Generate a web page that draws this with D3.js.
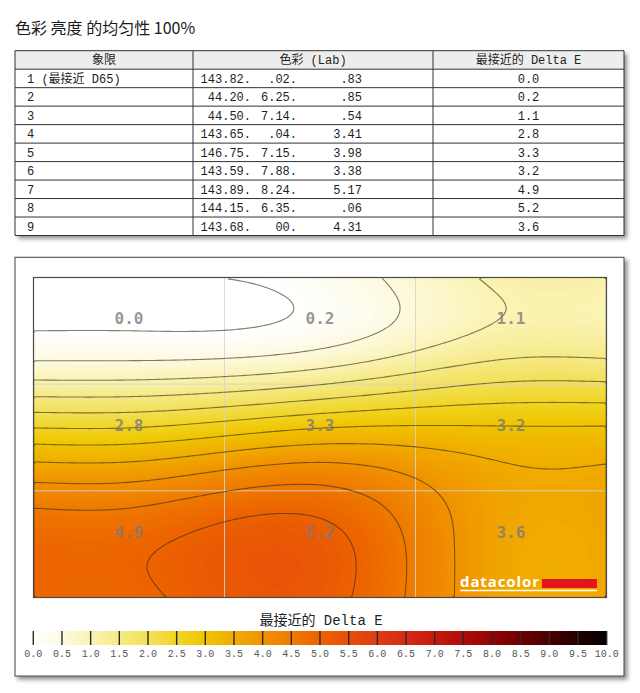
<!DOCTYPE html>
<html><head><meta charset="utf-8">
<script src="https://cdn.jsdelivr.net/npm/d3@7"></script>
<style>html,body{margin:0;padding:0;background:#fff;} svg{display:block;}</style>
</head><body><svg id="c" width="640" height="693"></svg>
<script>
// ---------- data ----------
const title = "色彩 亮度 的均匀性 100%";
const headers = ["象限", "色彩 (Lab)", "最接近的 Delta E"];
const quadrants = ["1 (最接近 D65)", "2", "3", "4", "5", "6", "7", "8", "9"];
const labL = ["143.82.", "44.20.", "44.50.", "143.65.", "146.75.", "143.59.", "143.89.", "144.15.", "143.68."];
const labA = [".02.", "6.25.", "7.14.", ".04.", "7.15.", "7.88.", "8.24.", "6.35.", "00."];
const labB = [".83", ".85", ".54", "3.41", "3.98", "3.38", "5.17", ".06", "4.31"];
const deltaE = [0.0, 0.2, 1.1, 2.8, 3.3, 3.2, 4.9, 5.2, 3.6];
const deltaLabels = ["0.0", "0.2", "1.1", "2.8", "3.3", "3.2", "4.9", "5.2", "3.6"];
const legendTitle = "最接近的 Delta E";
const legendTicks = [0, 0.5, 1, 1.5, 2, 2.5, 3, 3.5, 4, 4.5, 5, 5.5, 6, 6.5, 7, 7.5, 8, 8.5, 9, 9.5, 10];
const legendTickLabels = ["0.0","0.5","1.0","1.5","2.0","2.5","3.0","3.5","4.0","4.5","5.0","5.5","6.0","6.5","7.0","7.5","8.0","8.5","9.0","9.5","10.0"];
const contourLevels = [0, 0.5, 1, 1.5, 2, 2.5, 3, 3.5, 4, 4.5, 5, 5.5, 6];
const colorDomain = [0, 0.5, 1, 1.5, 2, 2.5, 3, 3.5, 4, 4.5, 5, 5.5, 6, 6.5, 7, 7.5, 8, 8.5, 9, 9.5, 10];
const colorRange = ["#ffffff","#fdfae0","#faf3b4","#f6ea86","#f3e058","#f1d524","#f0c400","#f0ac00","#f09200","#ef7a00","#ec6200","#e64e0a","#de3c14","#d42a16","#c61a10","#b00c08","#920404","#6e0000","#480000","#240000","#000000"];

// ---------- setup ----------
const svg = d3.select("#c");
const defs = svg.append("defs");
const f = defs.append("filter").attr("id", "shadow").attr("x", "-5%").attr("y", "-5%").attr("width", "115%").attr("height", "115%");
f.append("feDropShadow").attr("dx", 3).attr("dy", 3).attr("stdDeviation", 2).attr("flood-color", "#000").attr("flood-opacity", 0.45);

const color = d3.scaleLinear().domain(colorDomain).range(colorRange).clamp(true);
const monoFont = "'Liberation Mono', 'Noto Sans CJK SC', monospace";

// ---------- title ----------
svg.append("text").attr("x", 15).attr("y", 34)
  .style("font-family", "'Noto Sans CJK SC', 'Noto Sans', sans-serif")
  .style("font-size", "16px").attr("fill", "#1a1a1a").text(title);

// ---------- table ----------
const tX0 = 15, tX1 = 624, tY0 = 50.7, rowH = 18.48, nRows = quadrants.length + 1;
const colX = [15, 193, 433, 624];
const tbl = svg.append("g");
tbl.append("rect").attr("x", tX0).attr("y", tY0).attr("width", tX1 - tX0).attr("height", rowH * nRows)
  .attr("fill", "#fff").attr("filter", "url(#shadow)");
tbl.append("rect").attr("x", tX0).attr("y", tY0).attr("width", tX1 - tX0).attr("height", rowH)
  .attr("fill", "#ededed");
d3.range(nRows + 1).forEach(k => {
  tbl.append("line").attr("x1", tX0).attr("x2", tX1).attr("y1", tY0 + k * rowH).attr("y2", tY0 + k * rowH)
    .attr("stroke", "#333").attr("stroke-width", 1);
});
colX.forEach(x => {
  tbl.append("line").attr("x1", x).attr("x2", x).attr("y1", tY0).attr("y2", tY0 + rowH * nRows)
    .attr("stroke", "#333").attr("stroke-width", 1);
});
const tText = (x, y, s, anchor) => tbl.append("text").attr("x", x).attr("y", y).attr("text-anchor", anchor)
  .style("font-family", monoFont).style("font-size", "12px").attr("fill", "#1e1e1e").text(s);
tText((colX[0] + colX[1]) / 2, tY0 + rowH / 2 + 4.5, headers[0], "middle");
tText((colX[1] + colX[2]) / 2, tY0 + rowH / 2 + 4.5, headers[1], "middle");
tText((colX[2] + colX[3]) / 2, tY0 + rowH / 2 + 4.5, headers[2], "middle");
quadrants.forEach((q, k) => {
  const y = tY0 + (k + 1.5) * rowH + 4.5;
  tText(27, y, q, "start");
  tText(251, y, labL[k], "end");
  tText(297, y, labA[k], "end");
  tText(362, y, labB[k], "end");
  tText((colX[2] + colX[3]) / 2, y, deltaE[k].toFixed(1), "middle");
});

// ---------- chart panel ----------
svg.append("rect").attr("x", 15).attr("y", 257.3).attr("width", 609).attr("height", 418.7)
  .attr("fill", "#fff").attr("stroke", "#444").attr("stroke-width", 1).attr("filter", "url(#shadow)");

const x0 = 33.5, x1 = 606.5, y0 = 277.5, y1 = 597.5;
const sx = d3.scaleLinear().domain([-1.5, 1.5]).range([x0, x1]);
const sy = d3.scaleLinear().domain([-1.5, 1.5]).range([y0, y1]);

function natSpline(xs, ys) {
  const n = xs.length, h = [], M = new Array(n).fill(0);
  for (let i = 0; i < n - 1; i++) h[i] = xs[i + 1] - xs[i];
  const a = [], b = [], c = [], d = [];
  for (let i = 1; i < n - 1; i++) {
    a.push(h[i - 1]); b.push(2 * (h[i - 1] + h[i])); c.push(h[i]);
    d.push(6 * ((ys[i + 1] - ys[i]) / h[i] - (ys[i] - ys[i - 1]) / h[i - 1]));
  }
  const m = b.length;
  for (let i = 1; i < m; i++) { const w = a[i] / b[i - 1]; b[i] -= w * c[i - 1]; d[i] -= w * d[i - 1]; }
  const sol = new Array(m);
  sol[m - 1] = d[m - 1] / b[m - 1];
  for (let i = m - 2; i >= 0; i--) sol[i] = (d[i] - c[i] * sol[i + 1]) / b[i];
  for (let i = 0; i < m; i++) M[i + 1] = sol[i];
  return x => {
    let i = 0;
    while (i < n - 2 && x > xs[i + 1]) i++;
    const A = xs[i], B = xs[i + 1], hh = B - A;
    return M[i] * Math.pow(B - x, 3) / (6 * hh) + M[i + 1] * Math.pow(x - A, 3) / (6 * hh)
      + (ys[i] - M[i] * hh * hh / 6) * (B - x) / hh + (ys[i + 1] - M[i + 1] * hh * hh / 6) * (x - A) / hh;
  };
}

const knots = [-1.5, -1, 0, 1, 1.5];
const pad = [0, 0, 1, 2, 2];
const V = pad.map(r => pad.map(cc => deltaE[r * 3 + cc]));
const colSplines = knots.map((_, c) => natSpline(knots, V.map(row => row[c])));

const nx = 191, ny = 107;
const values = new Float64Array(nx * ny);
for (let j = 0; j < ny; j++) {
  const t = -1.5 + (j + 0.5) / ny * 3;
  const rowVals = colSplines.map(s => s(t));
  const rs = natSpline(knots, rowVals);
  for (let i = 0; i < nx; i++) {
    const s = -1.5 + (i + 0.5) / nx * 3;
    values[j * nx + i] = rs(s);
  }
}

const gx = d3.scaleLinear().domain([0, nx]).range([x0, x1]);
const gy = d3.scaleLinear().domain([0, ny]).range([y0, y1]);
const path = d3.geoPath(d3.geoTransform({ point: function (x, y) { this.stream.point(gx(x), gy(y)); } }));

defs.append("clipPath").attr("id", "plotclip").append("rect")
  .attr("x", x0).attr("y", y0).attr("width", x1 - x0).attr("height", y1 - y0);

const plot = svg.append("g").attr("clip-path", "url(#plotclip)");
plot.append("rect").attr("x", x0).attr("y", y0).attr("width", x1 - x0).attr("height", y1 - y0).attr("fill", "#fff");

const step = 0.04;
const fillTh = d3.range(0, 6.5, step);
const fills = d3.contours().size([nx, ny]).thresholds(fillTh)(values);
plot.append("g").selectAll("path").data(fills).join("path")
  .attr("d", path).attr("fill", d => color(d.value + step / 2)).attr("stroke", d => color(d.value + step / 2)).attr("stroke-width", 0.3);

const grid = plot.append("g").attr("stroke", "#d4d4d4").attr("stroke-opacity", 0.85).attr("stroke-width", 1);
[-0.5, 0.5].forEach(v => {
  grid.append("line").attr("x1", sx(v)).attr("x2", sx(v)).attr("y1", y0).attr("y2", y1);
  grid.append("line").attr("x1", x0).attr("x2", x1).attr("y1", sy(v)).attr("y2", sy(v));
});

const lines = d3.contours().size([nx, ny]).thresholds(contourLevels)(values);
plot.append("g").selectAll("path").data(lines).join("path")
  .attr("d", path).attr("fill", "none").attr("stroke", "rgba(55,45,25,0.62)").attr("stroke-width", 1.1);

svg.append("rect").attr("x", x0).attr("y", y0).attr("width", x1 - x0).attr("height", y1 - y0)
  .attr("fill", "none").attr("stroke", "#4a4a4a").attr("stroke-width", 1.2);

deltaLabels.forEach((s, k) => {
  const r = Math.floor(k / 3), c = k % 3;
  svg.append("text").attr("x", sx(c - 1)).attr("y", sy(r - 1) - 6.5).attr("text-anchor", "middle")
    .style("font-family", "'DejaVu Sans Mono', monospace").style("font-size", "16px").style("font-weight", "bold")
    .attr("fill", "#7a7a7a").attr("fill-opacity", 0.8).text(s);
});

const logo = svg.append("g");
logo.append("text").attr("x", 460).attr("y", 587)
  .style("font-family", "'Open Sans', 'Noto Sans', sans-serif").style("font-size", "15px").style("font-weight", "bold")
  .attr("fill", "#fff").attr("textLength", 79).text("datacolor");
logo.append("rect").attr("x", 542).attr("y", 579).attr("width", 55).attr("height", 9).attr("fill", "#e3141c");
logo.append("line").attr("x1", 460).attr("x2", 597).attr("y1", 590.5).attr("y2", 590.5).attr("stroke", "#fff").attr("stroke-width", 1.3);

// ---------- legend ----------
const lx = d3.scaleLinear().domain([0, 10]).range([33.3, 606.7]);
svg.append("text").attr("x", 321).attr("y", 625).attr("text-anchor", "middle")
  .style("font-family", monoFont).style("font-size", "14px").attr("fill", "#222").text(legendTitle);
const grad = defs.append("linearGradient").attr("id", "lg").attr("gradientUnits", "userSpaceOnUse")
  .attr("x1", lx(0)).attr("x2", lx(10)).attr("y1", 0).attr("y2", 0);
colorDomain.forEach((v, i) => grad.append("stop").attr("offset", v / 10).attr("stop-color", colorRange[i]));
svg.append("rect").attr("x", lx(0)).attr("y", 631).attr("width", lx(10) - lx(0)).attr("height", 14).attr("fill", "url(#lg)");
legendTicks.forEach((v, i) => {
  svg.append("line").attr("x1", lx(v)).attr("x2", lx(v)).attr("y1", 631).attr("y2", 645)
    .attr("stroke", "#2a2a2a").attr("stroke-width", 1.4);
  svg.append("text").attr("x", lx(v)).attr("y", 657).attr("text-anchor", "middle")
    .style("font-family", monoFont).style("font-size", "10px").attr("fill", "#555").text(legendTickLabels[i]);
});
</script></body></html>
